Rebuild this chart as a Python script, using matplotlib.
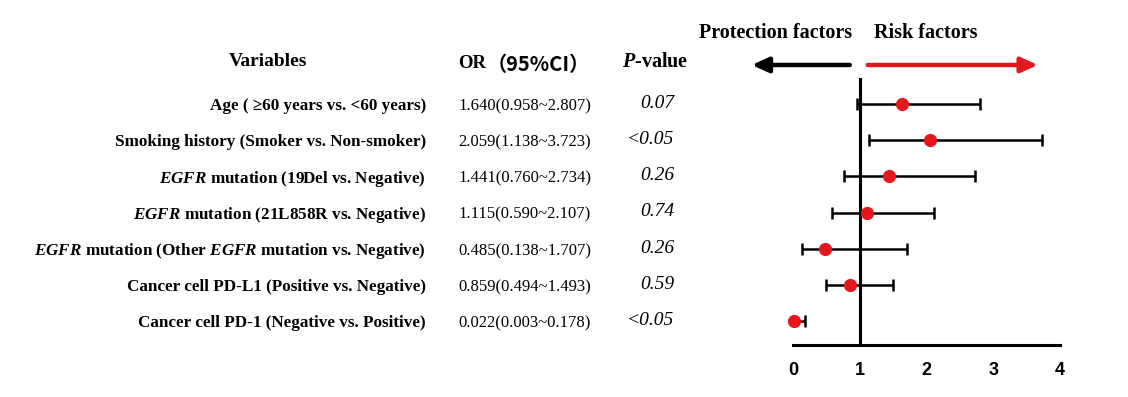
import matplotlib
matplotlib.use("Agg")
import matplotlib.pyplot as plt
import matplotlib.transforms as mtransforms

# data
variables = [
    "Age ( \u226560 years vs. <60 years)",
    "Smoking history (Smoker vs. Non-smoker)",
    r"$\mathit{EGFR}$ mutation (19Del vs. Negative)",
    r"$\mathit{EGFR}$ mutation (21L858R vs. Negative)",
    r"$\mathit{EGFR}$ mutation (Other $\mathit{EGFR}$ mutation vs. Negative)",
    "Cancer cell PD-L1 (Positive vs. Negative)",
    "Cancer cell PD-1 (Negative vs. Positive)",
]
odds_ratio = [1.640, 2.059, 1.441, 1.115, 0.485, 0.859, 0.022]
ci_low = [0.958, 1.138, 0.760, 0.590, 0.138, 0.494, 0.003]
ci_high = [2.807, 3.723, 2.734, 2.107, 1.707, 1.493, 0.178]
p_values = ["0.07", "<0.05", "0.26", "0.74", "0.26", "0.59", "<0.05"]
x_ticks = [0, 1, 2, 3, 4]

plt.rcParams["mathtext.fontset"] = "custom"
plt.rcParams["mathtext.rm"] = "Liberation Serif:bold"
plt.rcParams["mathtext.it"] = "Liberation Serif:bold:italic"
plt.rcParams["mathtext.bf"] = "Liberation Serif:bold"

W, H = 1128, 397
fig = plt.figure(figsize=(W / 100, H / 100), dpi=100)

# forest axes, placed in pixel terms
left, right, bottom, top = 793, 1060, 345, 78
ax = fig.add_axes([left / W, 1 - bottom / H, (right - left) / W, (bottom - top) / H])

rows = list(range(len(variables)))
ax.set_xlim(0, 4)
ax.set_ylim(6.66, -0.72)

ax.axvline(1, color="black", lw=2.2, zorder=1)
ax.errorbar(odds_ratio, rows, xerr=[[o - l for o, l in zip(odds_ratio, ci_low)],
                                    [h - o for o, h in zip(odds_ratio, ci_high)]],
            fmt="none", ecolor="black", elinewidth=1.8, capsize=4, capthick=1.8, zorder=2)
ax.plot(odds_ratio, rows, "o", color="#e5161c", markersize=8.5, zorder=3, clip_on=False)

for s in ["top", "right", "left"]:
    ax.spines[s].set_visible(False)
ax.spines["bottom"].set_linewidth(2.2)
ax.set_yticks([])
ax.set_xticks(x_ticks)
ax.tick_params(axis="x", length=0, pad=12)
for lbl in ax.get_xticklabels():
    lbl.set_fontfamily("Liberation Sans")
    lbl.set_fontweight("bold")
    lbl.set_fontsize(13)

# direction arrows above the plot
ax.annotate("", xy=(-0.62, -1.08), xytext=(0.85, -1.08), xycoords="data",
            arrowprops=dict(arrowstyle="-|>,head_length=1.0,head_width=0.45",
                            color="black", lw=3.2, shrinkA=0, shrinkB=0),
            annotation_clip=False)
ax.annotate("", xy=(3.67, -1.08), xytext=(1.12, -1.08), xycoords="data",
            arrowprops=dict(arrowstyle="-|>,head_length=1.0,head_width=0.45",
                            color="#e5161c", lw=3.2, shrinkA=0, shrinkB=0),
            annotation_clip=False)
fig.text(852 / W, 1 - 33 / H, "Protection factors", ha="right", va="center",
         family="Liberation Serif", weight="bold", fontsize=14.5)
fig.text(874 / W, 1 - 33 / H, "Risk factors", ha="left", va="center",
         family="Liberation Serif", weight="bold", fontsize=14.5)

# text columns share the row positions of the forest axes
trans = mtransforms.blended_transform_factory(fig.transFigure, ax.transData)
serif = "Liberation Serif"
for i, name in enumerate(variables):
    fig.text(426 / W, rows[i] + 0.06, name, transform=trans, ha="right", va="center",
             family=serif, weight="bold", fontsize=12.3)
    fig.text(458 / W, rows[i] + 0.06, f"{odds_ratio[i]:.3f}({ci_low[i]:.3f}~{ci_high[i]:.3f})",
             transform=trans, ha="left", va="center", family=serif, fontsize=12)
    fig.text(674 / W, rows[i] - 0.02, p_values[i], transform=trans, ha="right", va="center",
             family=serif, style="italic", fontsize=14)

# column headers
fig.text(268 / W, 1 - 62 / H, "Variables", ha="center", va="center",
         family=serif, weight="bold", fontsize=14)
or_txt = fig.text(458 / W, 1 - 64 / H, "OR", ha="left", va="center",
                  family=serif, weight="bold", fontsize=13.5)
ax.annotate("\uff0895%CI\uff09", xy=(1.0, 0.5), xycoords=or_txt, xytext=(0.5, 0),
            textcoords="offset points", ha="left", va="center",
            family="Noto Sans CJK SC", weight="bold", fontsize=14.5, annotation_clip=False)
fig.text(622 / W, 1 - 62 / H, r"$\mathit{P}$-value", ha="left", va="center",
         family=serif, weight="bold", fontsize=14.5)

fig.savefig("out.png", dpi=100)
